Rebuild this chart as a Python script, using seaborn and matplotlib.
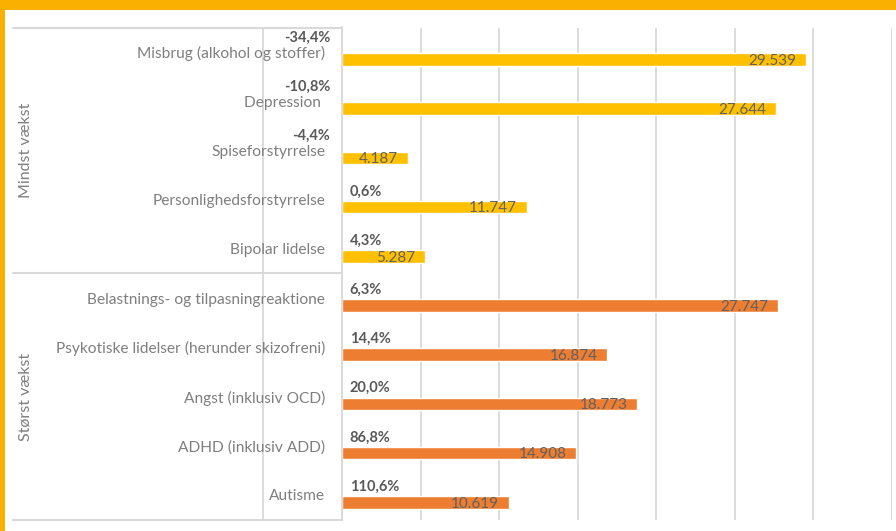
import numpy as np
import pandas as pd
import matplotlib.pyplot as plt
import seaborn as sns
from matplotlib.lines import Line2D
from matplotlib.patches import Rectangle

categories = [
    "Misbrug (alkohol og stoffer)", "Depression ", "Spiseforstyrrelse",
    "Personlighedsforstyrrelse", "Bipolar lidelse",
    "Belastnings- og tilpasningreaktione",
    "Psykotiske lidelser (herunder skizofreni)", "Angst (inklusiv OCD)",
    "ADHD (inklusiv ADD)", "Autisme",
]
values = [29539, 27644, 4187, 11747, 5287, 27747, 16874, 18773, 14908, 10619]
growth = [-34.4, -10.8, -4.4, 0.6, 4.3, 6.3, 14.4, 20.0, 86.8, 110.6]
groups = ["Mindst vækst"] * 5 + ["Størst vækst"] * 5

sns.set_theme(style="white")
plt.rcParams['font.family'] = ['Lato', 'DejaVu Sans']

df = pd.DataFrame({"kategori": categories, "antal": values, "vaekst": growth, "gruppe": groups})

W, H = 896, 531
fig = plt.figure(figsize=(W / 100, H / 100), dpi=100)
ax_l, ax_r, ax_t, ax_b = 342, 892, 27.5, 519.5
ax = fig.add_axes([ax_l / W, 1 - ax_b / H, (ax_r - ax_l) / W, (ax_b - ax_t) / H])

palette = {"Mindst vækst": "#FFC000", "Størst vækst": "#ED7D31"}
sns.barplot(data=df, y="kategori", x="antal", hue="gruppe", palette=palette,
            dodge=False, width=0.254, legend=False, saturation=1, ax=ax)

ax.set_xlim(0, 35000)
ax.set_ylim(9.35, -0.65)
ax.set_xticks(np.arange(0, 35001, 5000))
ax.set_xticklabels([])
ax.grid(axis="x", color="#D9D9D9", lw=1.3)
ax.axvline(-5000, color="#D9D9D9", lw=1.3, clip_on=False, zorder=0)
ax.set_axisbelow(True)
for s in ["top", "right", "bottom"]:
    ax.spines[s].set_visible(False)
ax.spines["left"].set_color("#D9D9D9")
ax.spines["left"].set_linewidth(1.3)

ax.set_yticks(np.arange(len(categories)) - 0.15)
ax.set_yticklabels(categories, fontsize=11.2, color="#7F7F7F")
ax.tick_params(axis="y", length=0, pad=12)
ax.tick_params(axis="x", length=0)
ax.set_xlabel("")
ax.set_ylabel("")

# værdier inde i søjlerne
for i, v in enumerate(values):
    ax.annotate(f"{v:,}".replace(",", "."), (v, i), xytext=(-7, -1),
                textcoords="offset points", ha="right", va="center",
                fontsize=11, color="#616161")

# vækst i procent over søjlerne
for i, g in enumerate(growth):
    txt = f"{g:.1f}".replace(".", ",") + "%"
    if g < 0:
        ax.annotate(txt, (0, i - 0.44), xytext=(-8.3, 0), textcoords="offset points",
                    ha="right", va="center", fontsize=10.5, fontweight="bold", color="#595959")
    else:
        ax.annotate(txt, (0, i - 0.32), xytext=(5.5, 0), textcoords="offset points",
                    ha="left", va="center", fontsize=10.5, fontweight="bold", color="#595959")

# skillelinjer i kategoriaksen
for yp in [27.5, 273, 519.5]:
    fig.add_artist(Line2D([13 / W, ax_l / W], [1 - yp / H, 1 - yp / H],
                          color="#D9D9D9", lw=1.5))

fig.text(26 / W, 1 - 150 / H, "Mindst vækst", rotation=90, ha="center", va="center",
         fontsize=11.5, color="#7F7F7F")
fig.text(26 / W, 1 - 397 / H, "Størst vækst", rotation=90, ha="center", va="center",
         fontsize=11.5, color="#7F7F7F")

# orange ramme
fig.add_artist(Rectangle((0, 1 - 10 / H), 1, 10 / H, transform=fig.transFigure,
                         color="#F9B000", lw=0))
fig.add_artist(Rectangle((0, 0), 5 / W, 1, transform=fig.transFigure,
                         color="#F9B000", lw=0))

fig.savefig("out.png", dpi=100)
